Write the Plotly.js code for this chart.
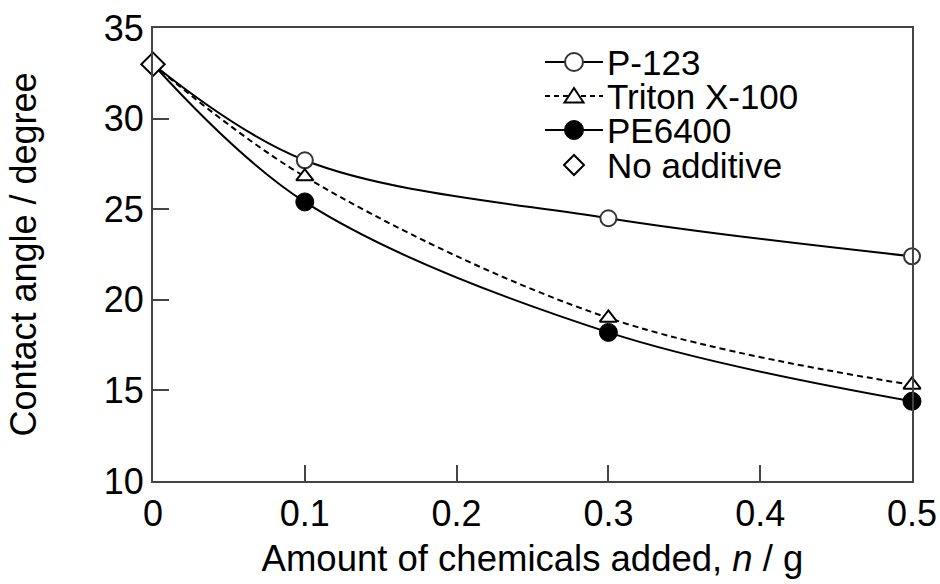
<!DOCTYPE html>
<html><head><meta charset="utf-8">
<script src="https://cdn.plot.ly/plotly-3.0.1.min.js"></script>
<style>html,body{margin:0;padding:0;background:#fff}#c{width:940px;height:584px}</style>
</head><body><div id="c"></div>
<script>
const xVals = [0, 0.1, 0.3, 0.5];
const p123 = [33, 27.7, 24.5, 22.4];
const triton = [33, 26.8, 19.0, 15.3];
const pe6400 = [33, 25.4, 18.2, 14.4];
const noAddX = [0];
const noAdd = [33];
const seriesNames = ['P-123', 'Triton X-100', 'PE6400', 'No additive'];
const xTicks = [0, 0.1, 0.2, 0.3, 0.4, 0.5];
const xTickText = ['0', '0.1', '0.2', '0.3', '0.4', '0.5'];
const yTicks = [10, 15, 20, 25, 30, 35];

const traces = [
  {x: xVals, y: p123, name: seriesNames[0], mode: 'lines+markers', cliponaxis: false,
   line: {shape: 'spline', smoothing: 1, color: '#000', width: 2},
   marker: {symbol: 'circle', opacity: 1, size: [0, 16, 16, 16], color: '#fff', line: {color: '#333', width: 2}}},
  {x: xVals, y: triton, name: seriesNames[1], mode: 'lines+markers', cliponaxis: false,
   line: {shape: 'spline', smoothing: 1, color: '#000', width: 2, dash: '6px,4px'},
   marker: {symbol: 'triangle-up', opacity: 1, size: [0, 15, 15, 15], color: '#fff', line: {color: '#000', width: 2}}},
  {x: xVals, y: pe6400, name: seriesNames[2], mode: 'lines+markers', cliponaxis: false,
   line: {shape: 'spline', smoothing: 1, color: '#000', width: 2},
   marker: {symbol: 'circle', opacity: 1, size: [0, 18, 18, 18], color: '#000', line: {color: '#000', width: 1}}},
  {x: noAddX, y: noAdd, name: seriesNames[3], mode: 'markers', cliponaxis: false,
   marker: {symbol: 'diamond', opacity: 1, size: 18, color: '#fff', line: {color: '#000', width: 2}}}
];

// custom legend (plot area: left 153, top 28, width 759, height 453)
const L = 153, T = 28, W = 759, H = 453;
const px = v => (v - L) / W;
const py = v => (T + H - v) / H;
const legRows = [62, 96, 130, 165];
const legLineX = [545, 603];
const legMarkX = 574;
const legTextX = 606;
const shapes = [];
const annotations = [];
const lineStyles = [
  {color: '#000', width: 2},
  {color: '#000', width: 2, dash: '5px,4px'},
  {color: '#000', width: 2},
  null
];
lineStyles.forEach((ls, i) => {
  if (ls) shapes.push({type: 'line', xref: 'paper', yref: 'paper', x0: px(legLineX[0]), x1: px(legLineX[1]),
                       y0: py(legRows[i]), y1: py(legRows[i]), line: ls});
});
const mk = (extra) => Object.assign({xref: 'paper', yref: 'paper', xsizemode: 'pixel', ysizemode: 'pixel'}, extra);
shapes.push(mk({type: 'circle', xanchor: px(legMarkX), yanchor: py(legRows[0]), x0: -9, x1: 9, y0: -9, y1: 9,
                fillcolor: '#fff', line: {color: '#333', width: 2}}));
shapes.push(mk({type: 'path', xanchor: px(legMarkX), yanchor: py(legRows[1]), path: 'M -9.5 -6.5 L 9.5 -6.5 L 0 8 Z',
                fillcolor: '#fff', line: {color: '#000', width: 2}}));
shapes.push(mk({type: 'circle', xanchor: px(legMarkX), yanchor: py(legRows[2]), x0: -9.5, x1: 9.5, y0: -9.5, y1: 9.5,
                fillcolor: '#000', line: {color: '#000', width: 1}}));
shapes.push(mk({type: 'path', xanchor: px(legMarkX), yanchor: py(legRows[3]), path: 'M -10 0 L 0 10 L 10 0 L 0 -10 Z',
                fillcolor: '#fff', line: {color: '#000', width: 2}}));
seriesNames.forEach((n, i) => {
  annotations.push({xref: 'paper', yref: 'paper', x: px(legTextX), y: py(legRows[i]), xanchor: 'left', yanchor: 'middle',
                    text: n, showarrow: false, height: 32, valign: 'middle', borderpad: 0,
                    font: {size: 35, color: '#000'}});
});

const font = {family: 'Liberation Sans, Arial, sans-serif', color: '#000'};
const layout = {
  width: 940, height: 584,
  margin: {l: L, r: 940 - L - W, t: T, b: 584 - T - H},
  paper_bgcolor: '#fff', plot_bgcolor: '#fff',
  font: font,
  showlegend: false,
  shapes: shapes,
  annotations: annotations,
  xaxis: {range: [0, 0.5], tickvals: xTicks, ticktext: xTickText, ticks: 'inside', ticklen: 16, tickwidth: 2,
          tickcolor: '#444', showline: true, linecolor: '#444', linewidth: 2, mirror: true,
          showgrid: false, zeroline: false, tickfont: {size: 36, color: '#000'},
          title: {text: 'Amount of chemicals added, <i>n</i> / g', font: {size: 36.5, color: '#000'}, standoff: 12}},
  yaxis: {range: [10, 35], tickvals: yTicks, ticks: 'inside', ticklen: 16, tickwidth: 2,
          tickcolor: '#444', showline: true, linecolor: '#444', linewidth: 2, mirror: true,
          showgrid: false, zeroline: false, tickfont: {size: 36, color: '#000'},
          title: {text: 'Contact angle / degree', font: {size: 36, color: '#000'}, standoff: 56}}
};
Plotly.newPlot('c', traces, layout, {displayModeBar: false, staticPlot: true});
</script></body></html>
